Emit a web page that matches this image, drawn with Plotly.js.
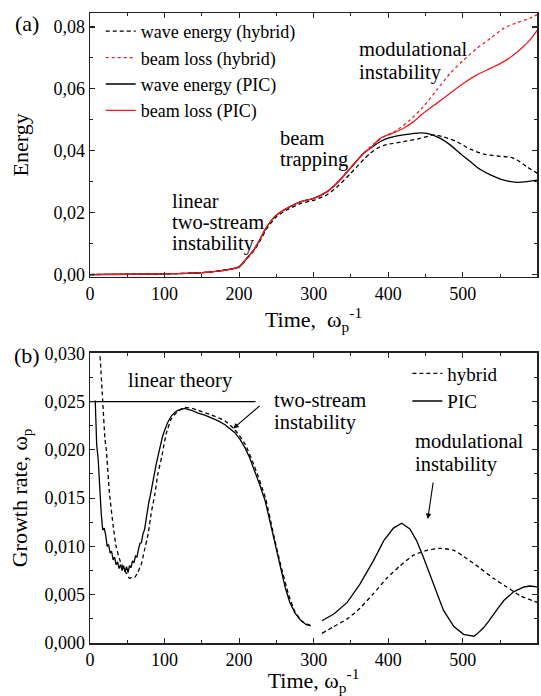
<!DOCTYPE html>
<html>
<head>
<meta charset="utf-8">
<script src="https://cdn.plot.ly/plotly-3.0.1.min.js"></script>
<style>html,body{margin:0;padding:0;background:#fff;}#chart{width:541px;height:696px;}</style>
</head>
<body>
<div id="chart"></div>
<script>
// ---------- Panel (a): energy vs time ----------
const waveHybridT = [0, 50, 100, 150, 175, 190, 200, 210, 219, 226, 237, 250, 264, 282, 300, 318, 331, 349, 367, 376, 389, 402, 420, 443, 461, 474, 492, 510, 528, 546, 564, 573, 586, 600];
const waveHybridE = [0, 0.0001, 0.0002, 0.0006, 0.0012, 0.0018, 0.0024, 0.0050, 0.0074, 0.0100, 0.0148, 0.0187, 0.0209, 0.0229, 0.0240, 0.0258, 0.0282, 0.0325, 0.0372, 0.0392, 0.0413, 0.0422, 0.0429, 0.0440, 0.0451, 0.0445, 0.0429, 0.0405, 0.0389, 0.0383, 0.0379, 0.0370, 0.0348, 0.0327];

const lossHybridT = [0, 50, 100, 150, 175, 190, 200, 210, 219, 226, 237, 250, 264, 282, 300, 318, 331, 349, 367, 376, 394, 412, 429, 447, 465, 483, 501, 519, 537, 555, 573, 590, 600];
const lossHybridE = [0, 0.0001, 0.0002, 0.0006, 0.0012, 0.0018, 0.0025, 0.0052, 0.0077, 0.0105, 0.0154, 0.0192, 0.0214, 0.0235, 0.0246, 0.0268, 0.0295, 0.0343, 0.0392, 0.0413, 0.0445, 0.0467, 0.0499, 0.0542, 0.0596, 0.0650, 0.0693, 0.0731, 0.0763, 0.0796, 0.0814, 0.0828, 0.0840];

const wavePicT = [0, 50, 100, 150, 175, 190, 200, 210, 219, 226, 237, 250, 264, 282, 300, 318, 331, 349, 367, 376, 389, 402, 420, 443, 456, 470, 483, 496, 510, 523, 537, 555, 573, 586, 600];
const wavePicE = [0, 0.0001, 0.0002, 0.0006, 0.0012, 0.0018, 0.0025, 0.0052, 0.0077, 0.0105, 0.0154, 0.0192, 0.0214, 0.0235, 0.0246, 0.0268, 0.0295, 0.0343, 0.0392, 0.0408, 0.0429, 0.0442, 0.0451, 0.0458, 0.0454, 0.0440, 0.0419, 0.0392, 0.0365, 0.0340, 0.0322, 0.0305, 0.0298, 0.0300, 0.0305];

const lossPicT = [0, 50, 100, 150, 175, 190, 200, 210, 219, 226, 237, 250, 264, 282, 300, 318, 331, 349, 367, 376, 389, 403, 420, 434, 447, 465, 483, 501, 519, 537, 555, 568, 581, 590, 600];
const lossPicE = [0, 0.0001, 0.0002, 0.0006, 0.0012, 0.0018, 0.0025, 0.0052, 0.0077, 0.0105, 0.0154, 0.0192, 0.0214, 0.0235, 0.0246, 0.0268, 0.0295, 0.0343, 0.0392, 0.0408, 0.0440, 0.0454, 0.0472, 0.0494, 0.0521, 0.0553, 0.0586, 0.0618, 0.0645, 0.0666, 0.0688, 0.0709, 0.0736, 0.0758, 0.0790];

// ---------- Panel (b): growth rate vs time ----------
const rateHybridT = [13.5, 17, 20, 22, 26, 31, 35, 40, 45, 49, 53, 57, 60, 64, 69, 73, 78, 82, 87, 91, 96, 102, 109, 118, 127, 136, 145, 163, 181, 194, 208, 221, 235, 248, 256, 266, 275, 285, 296, null, 311, 327, 345, 362, 380, 398, 416, 434, 452, 470, 488, 506, 524, 541, 559, 577, 600];
const rateHybrid = [0.0297, 0.0251, 0.0212, 0.0199, 0.0156, 0.0122, 0.0100, 0.0086, 0.0077, 0.0072, 0.0067, 0.0068, 0.0068, 0.0073, 0.0082, 0.0096, 0.0113, 0.0134, 0.0154, 0.0175, 0.0192, 0.0216, 0.0232, 0.0240, 0.0244, 0.0243, 0.0241, 0.0236, 0.0230, 0.0221, 0.0206, 0.0182, 0.0151, 0.0106, 0.0080, 0.0051, 0.0032, 0.0022, 0.0018, null, 0.0010, 0.0017, 0.0025, 0.0036, 0.0051, 0.0067, 0.0080, 0.0091, 0.0096, 0.0098, 0.0096, 0.0087, 0.0077, 0.0067, 0.0058, 0.0049, 0.0042];

const ratePicT = [7, 8, 9, 11, 13, 15, 17, 19, 21, 23, 25, 27, 29, 31, 33, 35, 37, 39, 41, 43, 45, 47, 49, 51, 53, 55, 57, 59, 61, 63, 65, 67, 69, 71, 73, 75, 77, 79, 81, 83, 85, 87, 89, 91, 94, 97, 100, 104, 109, 114, 118, 123, 127, 136, 145, 154, 163, 172, 181, 188, 194, 201, 208, 214, 221, 228, 235, 241, 248, 255, 262, 268, 275, 282, 290, 296, null, 311, 327, 345, 362, 380, 394, 407, 418, 429, 438, 447, 461, 474, 488, 501, 508, 515, 520, 528, 535, 541, 548, 555, 568, 582, 590, 600];
const ratePic = [0.0251, 0.0230, 0.0205, 0.0190, 0.0158, 0.0135, 0.0117, 0.0119, 0.0112, 0.0100, 0.0102, 0.0093, 0.0095, 0.0086, 0.0089, 0.0081, 0.0084, 0.0077, 0.0081, 0.0075, 0.0080, 0.0074, 0.0079, 0.0073, 0.0080, 0.0078, 0.0085, 0.0083, 0.0090, 0.0089, 0.0097, 0.0103, 0.0104, 0.0113, 0.0117, 0.0128, 0.0137, 0.0146, 0.0153, 0.0163, 0.0170, 0.0178, 0.0186, 0.0193, 0.0205, 0.0213, 0.0220, 0.0228, 0.0235, 0.0239, 0.0241, 0.0242, 0.0243, 0.0241, 0.0238, 0.0236, 0.0233, 0.0230, 0.0226, 0.0222, 0.0218, 0.0211, 0.0202, 0.0192, 0.0178, 0.0163, 0.0147, 0.0127, 0.0103, 0.0078, 0.0057, 0.0042, 0.0031, 0.0024, 0.0019, 0.0018, null, 0.0023, 0.0030, 0.0042, 0.0061, 0.0085, 0.0106, 0.0119, 0.0124, 0.0118, 0.0106, 0.0089, 0.0061, 0.0034, 0.0017, 0.0009, 0.0008, 0.0007, 0.0010, 0.0016, 0.0023, 0.0030, 0.0037, 0.0044, 0.0053, 0.0058, 0.0059, 0.0058];

const linearTheoryT = [0, 222];
const linearTheoryRate = [0.025, 0.025];

const xTickVals = [0, 100, 200, 300, 400, 500];

const FONT = 'Liberation Serif';
const RED = 'rgb(235,30,35)';
const ANN = 20.5;

const traces = [
  {x: waveHybridT, y: waveHybridE, name: 'wave energy (hybrid)', mode: 'lines', xaxis: 'x', yaxis: 'y', legend: 'legend',
   line: {color: '#000', width: 1.3, dash: '4px,3px', shape: 'spline', smoothing: 0.6}},
  {x: lossHybridT, y: lossHybridE, name: 'beam loss (hybrid)', mode: 'lines', xaxis: 'x', yaxis: 'y', legend: 'legend',
   line: {color: RED, width: 1.3, dash: '3px,3px', shape: 'spline', smoothing: 0.6}},
  {x: wavePicT, y: wavePicE, name: 'wave energy (PIC)', mode: 'lines', xaxis: 'x', yaxis: 'y', legend: 'legend',
   line: {color: '#000', width: 1.3, shape: 'spline', smoothing: 0.6}},
  {x: lossPicT, y: lossPicE, name: 'beam loss (PIC)', mode: 'lines', xaxis: 'x', yaxis: 'y', legend: 'legend',
   line: {color: RED, width: 1.3, shape: 'spline', smoothing: 0.6}},
  {x: rateHybridT, y: rateHybrid, name: 'hybrid', mode: 'lines', xaxis: 'x2', yaxis: 'y2', legend: 'legend2', legendgroup: 'g1',
   connectgaps: false, line: {color: '#000', width: 1.3, dash: '4px,3px', shape: 'spline', smoothing: 0.5}},
  {x: ratePicT, y: ratePic, name: 'PIC', mode: 'lines', xaxis: 'x2', yaxis: 'y2', legend: 'legend2', legendgroup: 'g2',
   connectgaps: false, line: {color: '#000', width: 1.3}},
  {x: linearTheoryT, y: linearTheoryRate, name: 'linear theory', mode: 'lines', xaxis: 'x2', yaxis: 'y2', showlegend: false,
   line: {color: '#000', width: 1.3}}
];

const axisCommon = {
  showgrid: false, zeroline: false, showline: true, linecolor: '#222', linewidth: 1.5,
  mirror: 'ticks', ticks: 'inside', ticklen: 5, tickwidth: 1.2, tickcolor: '#222',
  tickfont: {family: FONT, size: 18, color: '#000'}
};

function label(xref, yref, x, y, text) {
  return {xref: xref, yref: yref, x: x, y: y, xanchor: 'left', yanchor: 'middle', align: 'left',
          text: text, showarrow: false, font: {family: FONT, size: ANN, color: '#000'}};
}

const layout = {
  width: 541, height: 696,
  margin: {l: 90, r: 4, t: 13, b: 53},
  paper_bgcolor: '#fff', plot_bgcolor: '#fff',
  separators: ', ',
  font: {family: FONT, color: '#000', size: 18},
  xaxis: Object.assign({}, axisCommon, {
    domain: [0, 1], anchor: 'y', range: [0, 599.5], tickvals: xTickVals,
    minor: {dtick: 50, ticks: 'inside', ticklen: 3, tickcolor: '#222', tickwidth: 1},
    title: {text: 'Time,  ω<sub>p</sub><sup>-1</sup>', font: {family: FONT, size: 22}, standoff: 6}
  }),
  yaxis: Object.assign({}, axisCommon, {
    domain: [0.5814, 1], anchor: 'x', range: [-0.0007, 0.0845], dtick: 0.02, tick0: 0, tickformat: '.2f',
    minor: {dtick: 0.01, ticks: 'inside', ticklen: 3, tickcolor: '#222', tickwidth: 1},
    title: {text: 'Energy', font: {family: FONT, size: 22}, standoff: 18}
  }),
  xaxis2: Object.assign({}, axisCommon, {
    domain: [0, 1], anchor: 'y2', range: [0, 599.5], tickvals: xTickVals,
    minor: {dtick: 50, ticks: 'inside', ticklen: 3, tickcolor: '#222', tickwidth: 1},
    title: {text: 'Time, ω<sub>p</sub><sup>-1</sup>', font: {family: FONT, size: 22}, standoff: 6}
  }),
  yaxis2: Object.assign({}, axisCommon, {
    domain: [0, 0.4608], anchor: 'x2', range: [0, 0.03006], dtick: 0.005, tick0: 0, tickformat: '.3f',
    minor: {dtick: 0.0025, ticks: 'inside', ticklen: 3, tickcolor: '#222', tickwidth: 1},
    title: {text: 'Growth rate, ω<sub>p</sub>', font: {family: FONT, size: 22}, standoff: 10}
  }),
  legend: {
    x: 0.024, y: 1.0, xanchor: 'left', yanchor: 'top', bgcolor: 'rgba(0,0,0,0)',
    font: {family: FONT, size: 18, color: '#000'}, tracegroupgap: 0
  },
  legend2: {
    x: 0.71, y: 0.458, xanchor: 'left', yanchor: 'top', bgcolor: 'rgba(0,0,0,0)',
    font: {family: FONT, size: 19, color: '#000'}, traceorder: 'grouped', tracegroupgap: 0
  },
  showlegend: true,
  annotations: [
    {xref: 'paper', yref: 'paper', x: -0.172, y: 0.984, xanchor: 'left', yanchor: 'middle', text: '(a)', showarrow: false, font: {family: FONT, size: 22}},
    {xref: 'paper', yref: 'paper', x: -0.175, y: 0.457, xanchor: 'left', yanchor: 'middle', text: '(b)', showarrow: false, font: {family: FONT, size: 22}},
    label('x', 'y', 107.5, 0.02385, 'linear'),
    label('x', 'y', 107.5, 0.01687, 'two-stream'),
    label('x', 'y', 107.5, 0.01018, 'instability'),
    label('x', 'y', 251.5, 0.0440, 'beam'),
    label('x', 'y', 251.5, 0.0373, 'trapping'),
    label('x', 'y', 358.5, 0.0729, 'modulational'),
    label('x', 'y', 358.5, 0.0653, 'instability'),
    label('x2', 'y2', 48.3, 0.02714, 'linear theory'),
    label('x2', 'y2', 244, 0.02515, 'two-stream'),
    label('x2', 'y2', 244, 0.02288, 'instability'),
    {xref: 'x2', yref: 'y2', x: 192, y: 0.0222, ax: 28, ay: -24, text: '', showarrow: true, arrowhead: 2, arrowsize: 1, arrowwidth: 1.1, arrowcolor: '#000'},
    label('x2', 'y2', 433.8, 0.02092, 'modulational'),
    label('x2', 'y2', 433.8, 0.01844, 'instability'),
    {xref: 'x2', yref: 'y2', x: 453, y: 0.01284, ax: 5.6, ay: -38, text: '', showarrow: true, arrowhead: 2, arrowsize: 1, arrowwidth: 1.1, arrowcolor: '#000'}
  ]
};

Plotly.newPlot('chart', traces, layout, {displayModeBar: false, staticPlot: true});
</script>
</body>
</html>
